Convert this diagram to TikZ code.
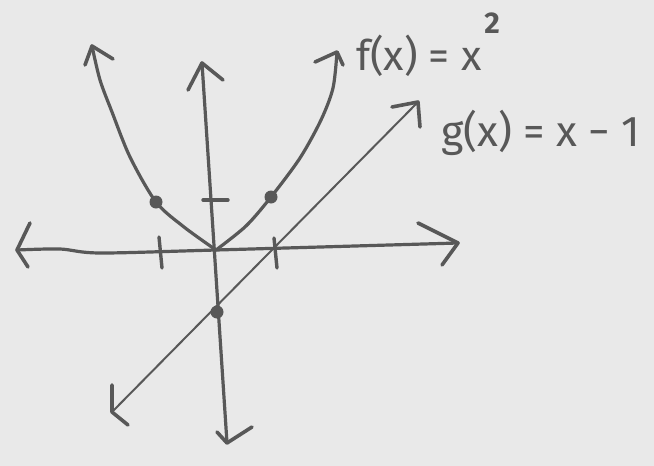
\documentclass[tikz,border=0pt]{standalone}
\usepackage{fontspec}
\setmainfont{Fira Sans}
\definecolor{paper}{RGB}{233,233,233}
\definecolor{ink}{RGB}{88,88,88}
\begin{document}
\begin{tikzpicture}[x=1pt,y=-1pt,
  ax/.style={draw=ink, line width=3.2pt, line cap=round, line join=round},
  thinline/.style={draw=ink, line width=2pt, line cap=round},
  head/.style={draw=ink, line width=3.6pt, line cap=round, line join=round},
  tick/.style={draw=ink, line width=3.4pt, line cap=round},
  dot/.style={circle, fill=ink, inner sep=0pt, minimum size=13pt},
  lbl/.style={text=ink, inner sep=0pt, anchor=base west}]
\fill[paper] (0,0) rectangle (654,466);
% coordinates
\coordinate (O) at (216,250);
\coordinate (xL) at (17,250);  \coordinate (xLa) at (30,223);  \coordinate (xLb) at (28,267);
\coordinate (xR) at (458,243); \coordinate (xRa) at (418,223); \coordinate (xRb) at (442,265);
\coordinate (yT) at (202,63);  \coordinate (yTa) at (188,90);  \coordinate (yTb) at (223,80);
\coordinate (yB) at (227,443); \coordinate (yBa) at (217,432); \coordinate (yBb) at (252,427);
\coordinate (pL) at (92,46);   \coordinate (pLa) at (85,65);   \coordinate (pLb) at (113,59);
\coordinate (pR) at (337,52);  \coordinate (pRa) at (315,62);  \coordinate (pRb) at (343,65);
\coordinate (gL) at (112,412); \coordinate (gLa) at (112,385); \coordinate (gLb) at (128,425);
\coordinate (gR) at (418,102); \coordinate (gRa) at (392,107); \coordinate (gRb) at (420,127);
% axes
\draw[ax] plot[smooth] coordinates {(xL) (60,249) (100,253) (O) (xR)};
\draw[ax] (yT) -- (yB);
\draw[head] (xLa) -- (xL) -- (xLb);
\draw[head] (xRa) -- (xR) -- (xRb);
\draw[head] (yTa) -- (yT) -- (yTb);
\draw[head] (yBa) -- (yB) -- (yBb);
% ticks
\draw[tick] (159,237) -- (162,268);
\draw[tick] (274,238) -- (277,268);
\draw[tick] (203,200) -- (228,200);
% parabola f(x)=x^2
\draw[ax] plot[smooth] coordinates {(pL) (100,80) (112,112) (130,157) (156,202) (184,227) (O)};
\draw[ax] plot[smooth] coordinates {(O) (246,226) (271,197) (300,158) (321,120) (333,88) (pR)};
\draw[head] (pLa) -- (pL) -- (pLb);
\draw[head] (pRa) -- (pR) -- (pRb);
% line g(x)=x-1
\draw[thinline] (gL) -- (gR);
\draw[head] (gLa) -- (gL) -- (gLb);
\draw[head] (gRa) -- (gR) -- (gRb);
% points
\node[dot] (p1) at (156,202) {};
\node[dot] (p2) at (271,197) {};
\node[dot] (p3) at (217,312) {};
% labels
\node[lbl, font=\fontsize{42}{42}\selectfont] (flab) at (356,70)
  {f(x) = x\kern3pt\raisebox{37pt}{\fontsize{30}{30}\selectfont\bfseries 2}};
\node[lbl, font=\fontsize{43}{43}\selectfont] (glab) at (441,146) {g(x) = x − 1};
\end{tikzpicture}
\end{document}
